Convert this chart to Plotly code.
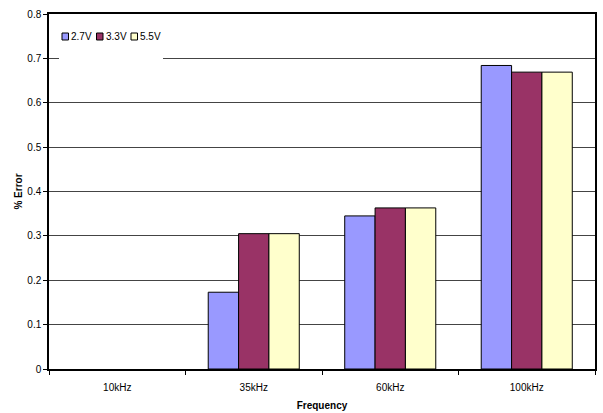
import plotly.graph_objects as go

# Measurement data: percentage error by test frequency and supply voltage
frequencies = ["10kHz", "35kHz", "60kHz", "100kHz"]
series_names = ["2.7V", "3.3V", "5.5V"]
err_2v7 = [0.0, 0.173, 0.345, 0.684]
err_3v3 = [0.0, 0.305, 0.363, 0.669]
err_5v5 = [0.0, 0.305, 0.363, 0.669]
series_colors = ["#9999FF", "#993366", "#FFFFCC"]
y_ticks = [0, 0.1, 0.2, 0.3, 0.4, 0.5, 0.6, 0.7, 0.8]

FONT = "Liberation Sans, Arial, sans-serif"

fig = go.Figure()
for name, vals, col in zip(series_names, [err_2v7, err_3v3, err_5v5], series_colors):
    fig.add_trace(go.Bar(
        x=frequencies, y=vals, name=name,
        marker=dict(color=col,
                    line=dict(color="#000000",
                              width=[0 if v == 0 else 1 for v in vals])),
        showlegend=False,
    ))

# Compact legend box in the upper-left corner of the plot area
W, H = 546.0, 355.0
shapes = [dict(type="rect", xref="paper", yref="paper",
               x0=10 / W, x1=114 / W, y0=(369 - 62) / H, y1=(369 - 20) / H,
               fillcolor="white", line=dict(width=0), layer="above")]
annotations = []
for i, (name, col) in enumerate(zip(series_names, series_colors)):
    left = 13 + 34.5 * i
    shapes.append(dict(type="rect", xref="paper", yref="paper",
                       x0=left / W, x1=(left + 6.5) / W,
                       y0=(369 - 40) / H, y1=(369 - 33) / H,
                       fillcolor=col, line=dict(color="#000000", width=1),
                       layer="above"))
    annotations.append(dict(xref="paper", yref="paper",
                            x=(left + 7) / W, y=(369 - 36.5) / H,
                            xanchor="left", yanchor="middle", showarrow=False,
                            text=name, font=dict(family=FONT, size=10, color="#000")))

fig.update_layout(
    width=603, height=413,
    margin=dict(l=49, r=8, t=14, b=44),
    paper_bgcolor="white", plot_bgcolor="white",
    barmode="group", bargap=0.333, bargroupgap=0,
    font=dict(family=FONT, size=10, color="#000"),
    shapes=shapes, annotations=annotations,
    xaxis=dict(
        automargin=False,
        tickson="boundaries", ticks="outside", ticklen=4, tickcolor="#000",
        ticklabelstandoff=8,
        showline=True, linecolor="#000", linewidth=1.5, mirror=True,
        showgrid=False,
        tickfont=dict(family=FONT, size=10),
        title=dict(text="<b>Frequency</b>", font=dict(family=FONT, size=10), standoff=10),
    ),
    yaxis=dict(
        automargin=False,
        range=[0, 0.8], tickvals=y_ticks, ticktext=[f"{v:g}" for v in y_ticks],
        ticks="outside", ticklen=4, tickcolor="#000",
        showline=True, linecolor="#000", linewidth=1.5, mirror=True,
        showgrid=True, gridcolor="#444", gridwidth=1,
        zeroline=False,
        tickfont=dict(family=FONT, size=10),
        title=dict(text="<b>% Error</b>", font=dict(family=FONT, size=10), standoff=3),
    ),
)

fig.write_html("out.html")
